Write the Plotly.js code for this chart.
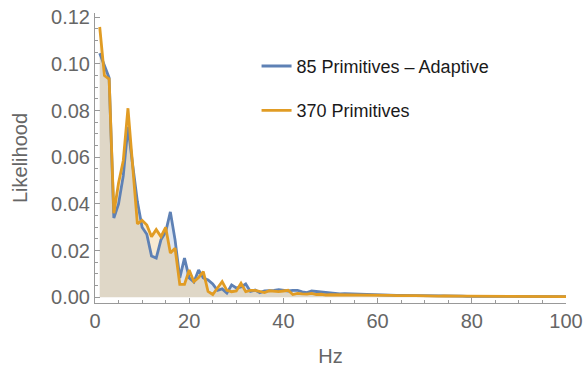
<!DOCTYPE html>
<html>
<head>
<meta charset="utf-8">
<script src="https://cdn.plot.ly/plotly-3.0.1.min.js"></script>
<style>html,body{margin:0;padding:0;background:#fff;}#chart{width:585px;height:373px;}</style>
</head>
<body>
<div id="chart"></div>
<script>
// Frequency (Hz)
const hz = [];
for (let i = 1; i <= 100; i++) hz.push(i);

// 85 Primitives - Adaptive
const adaptive85 = [
  0.1046, 0.0990, 0.0940, 0.0340, 0.0400, 0.0520, 0.0730, 0.0567, 0.0410, 0.0300,
  0.0270, 0.0177, 0.0168, 0.0246, 0.0280, 0.0366, 0.0246, 0.0083, 0.0168, 0.0083,
  0.0066, 0.0117, 0.0083, 0.0074, 0.0057, 0.0030, 0.0036, 0.0018, 0.0053, 0.0040,
  0.0044, 0.0057, 0.0025, 0.0031, 0.0020, 0.0027, 0.0027, 0.0030, 0.0033, 0.0030,
  0.0027, 0.0030, 0.0030, 0.0023, 0.0020, 0.0027, 0.0025, 0.0020, 0.0018, 0.0017,
  0.0016, 0.0015, 0.0016, 0.0015, 0.0014, 0.0013, 0.0013, 0.0012, 0.0011, 0.0010,
  0.0010, 0.0009, 0.0009, 0.0008, 0.0008, 0.0008, 0.0007, 0.0007, 0.0007, 0.0006,
  0.0006, 0.0006, 0.0006, 0.0005, 0.0005, 0.0005, 0.0005, 0.0005, 0.0004, 0.0004,
  0.0004, 0.0004, 0.0004, 0.0004, 0.0004, 0.0004, 0.0003, 0.0003, 0.0003, 0.0003,
  0.0003, 0.0003, 0.0003, 0.0003, 0.0003, 0.0003, 0.0003, 0.0003, 0.0003, 0.0003
];

// 370 Primitives
const primitives370 = [
  0.1158, 0.0950, 0.0935, 0.0360, 0.0490, 0.0585, 0.0810, 0.0550, 0.0315, 0.0330,
  0.0310, 0.0260, 0.0290, 0.0260, 0.0300, 0.0190, 0.0210, 0.0055, 0.0055, 0.0117,
  0.0067, 0.0085, 0.0110, 0.0025, 0.0012, 0.0040, 0.0067, 0.0030, 0.0024, 0.0027,
  0.0060, 0.0024, 0.0030, 0.0030, 0.0024, 0.0020, 0.0028, 0.0025, 0.0024, 0.0027,
  0.0030, 0.0012, 0.0017, 0.0015, 0.0014, 0.0017, 0.0012, 0.0013, 0.0010, 0.0011,
  0.0011, 0.0010, 0.0011, 0.0010, 0.0010, 0.0009, 0.0010, 0.0009, 0.0009, 0.0008,
  0.0009, 0.0008, 0.0008, 0.0007, 0.0008, 0.0007, 0.0007, 0.0007, 0.0006, 0.0006,
  0.0006, 0.0006, 0.0005, 0.0006, 0.0005, 0.0005, 0.0005, 0.0005, 0.0005, 0.0005,
  0.0004, 0.0005, 0.0004, 0.0004, 0.0004, 0.0004, 0.0004, 0.0004, 0.0004, 0.0004,
  0.0003, 0.0004, 0.0003, 0.0003, 0.0003, 0.0003, 0.0003, 0.0003, 0.0003, 0.0003
];

const seriesNames = ["85 Primitives – Adaptive", "370 Primitives"];
const xTickVals = [0, 20, 40, 60, 80, 100];
const yTickVals = [0.00, 0.02, 0.04, 0.06, 0.08, 0.10, 0.12];

const blue = "#5E81B5", orange = "#E19C24";
const fnt = "'Liberation Sans', Arial, sans-serif";

const traces = [
  {x: hz, y: adaptive85, type: "scatter", mode: "lines", fill: "tozeroy",
   fillcolor: "rgba(94,129,181,0.2)", line: {width: 0}, showlegend: false, hoverinfo: "skip"},
  {x: hz, y: primitives370, type: "scatter", mode: "lines", fill: "tozeroy",
   fillcolor: "rgba(225,156,36,0.2)", line: {width: 0}, showlegend: false, hoverinfo: "skip"},
  {x: hz, y: adaptive85, type: "scatter", mode: "lines", name: seriesNames[0],
   legendgroup: "a", line: {color: blue, width: 2.8}},
  {x: hz, y: primitives370, type: "scatter", mode: "lines", name: seriesNames[1],
   legendgroup: "b", line: {color: orange, width: 2.8}}
];

const layout = {
  width: 585, height: 373,
  margin: {l: 95, r: 19, t: 13, b: 70},
  paper_bgcolor: "#fff", plot_bgcolor: "#fff",
  font: {family: fnt, color: "#666"},
  showlegend: true,
  legend: {x: 0.343, y: 0.88, xanchor: "left", yanchor: "top",
           font: {size: 18, color: "#1a1a1a", family: fnt},
           bgcolor: "rgba(0,0,0,0)", tracegroupgap: 18, itemwidth: 30},
  xaxis: {
    range: [0, 100], showgrid: false, zeroline: false,
    showline: true, linecolor: "#999", linewidth: 1,
    tickvals: xTickVals, ticks: "inside", ticklen: 5, tickcolor: "#999",
    minor: {dtick: 5, ticks: "inside", ticklen: 3, tickcolor: "#999"},
    tickfont: {size: 20, color: "#666"},
    title: {text: "Hz", font: {size: 20, color: "#666"}, standoff: 17}
  },
  yaxis: {
    range: [-0.00244, 0.1218], showgrid: false, zeroline: false,
    showline: true, linecolor: "#999", linewidth: 1,
    tickvals: yTickVals, tickformat: ".2f", ticks: "inside", ticklen: 5, tickcolor: "#999",
    minor: {dtick: 0.005, tick0: 0, ticks: "inside", ticklen: 3, tickcolor: "#999"},
    tickfont: {size: 20, color: "#666"},
    title: {text: "Likelihood", font: {size: 20, color: "#666"}, standoff: 18}
  }
};

Plotly.newPlot("chart", traces, layout, {staticPlot: true, displayModeBar: false});
</script>
</body>
</html>
